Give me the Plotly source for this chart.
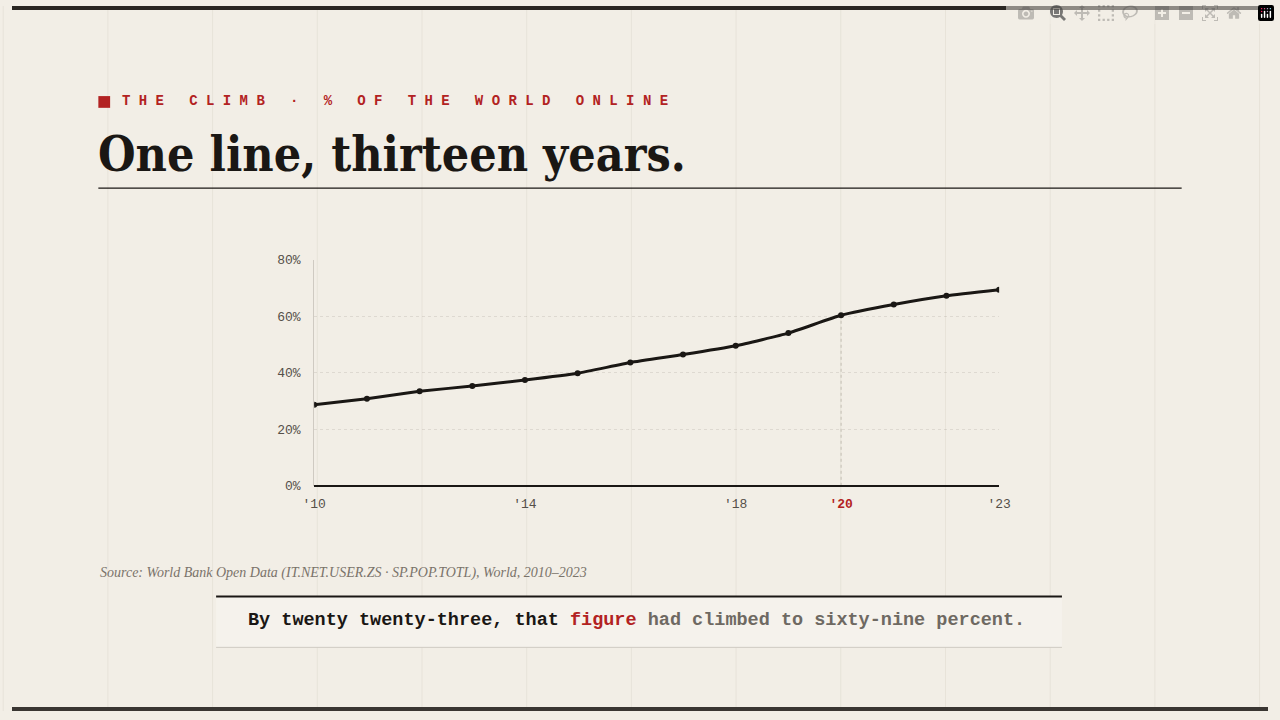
import plotly.graph_objects as go

years = list(range(2010, 2024))
pct = [28.7, 30.8, 33.4, 35.3, 37.4, 39.8, 43.6, 46.4, 49.5, 54.0, 60.3, 64.1, 67.2, 69.3]
xtick_vals = [2010, 2014, 2018, 2020, 2023]
xtick_text = ["'10", "'14", "'18", "<b><span style='color:#b22222'>'20</span></b>", "'23"]
ytick_vals = [0, 20, 40, 60, 80]
ytick_text = ["0%", "20%", "40%", "60%", "80%"]

W, H = 1280, 720
BG = "#f2eee6"
x0p, x1p, y0p, y1p = 308, 1006, 259, 490

fig = go.Figure()
fig.add_trace(go.Scatter(x=years, y=pct, mode="lines+markers",
                         line=dict(color="#1a1714", width=3, shape="spline", smoothing=0.4),
                         marker=dict(color="#1a1714", size=6), hoverinfo="skip"))

def px(x): return x / W
def py(y): return 1 - y / H

shapes = []
for i in range(13):
    xv = -9 + 106.7 * i
    shapes.append(dict(type="line", xref="paper", yref="paper", x0=px(xv), x1=px(xv), y0=0, y1=1,
                       line=dict(color="rgba(120,100,80,0.08)", width=1), layer="below"))
shapes.append(dict(type="rect", xref="paper", yref="paper", x0=0, x1=1, y0=py(4), y1=1, fillcolor="#2a2622", line_width=0))
shapes.append(dict(type="rect", xref="paper", yref="paper", x0=0, x1=1, y0=0, y1=py(716), fillcolor="#3a3632", line_width=0))
shapes.append(dict(type="rect", xref="paper", yref="paper", x0=px(88), x1=px(100), y0=py(104), y1=py(92), fillcolor="#b22222", line_width=0))
shapes.append(dict(type="line", xref="paper", yref="paper", x0=px(88), x1=px(1192), y0=py(186), y1=py(186), line=dict(color="#1a1714", width=1.2)))
shapes.append(dict(type="rect", xref="paper", yref="paper", x0=px(208), x1=px(1070), y0=py(655), y1=py(603), fillcolor="#f5f2ec", line_width=0))
shapes.append(dict(type="line", xref="paper", yref="paper", x0=px(208), x1=px(1070), y0=py(603), y1=py(603), line=dict(color="#1a1714", width=2)))
shapes.append(dict(type="line", xref="paper", yref="paper", x0=px(208), x1=px(1070), y0=py(655), y1=py(655), line=dict(color="#cfcac2", width=1)))
shapes.append(dict(type="line", xref="x", yref="y", x0=2020, x1=2020, y0=0, y1=60.3, line=dict(color="#c4beb4", width=1, dash="dot"), layer="below"))

annotations = [
    dict(x=px(110), y=py(97), xref="paper", yref="paper", xanchor="left", yanchor="middle", showarrow=False,
         text="<b>" + " ".join("THE CLIMB · % OF THE WORLD ONLINE") + "</b>",
         font=dict(family="Liberation Mono, Courier New, monospace", size=14, color="#b22222")),
    dict(x=px(86), y=py(151), xref="paper", yref="paper", xanchor="left", yanchor="middle", showarrow=False,
         text="<b>One line, thirteen years.</b>",
         font=dict(family="DejaVu Serif Condensed, DejaVu Serif, serif", size=48, color="#1a1714")),
    dict(x=px(88), y=py(579), xref="paper", yref="paper", xanchor="left", yanchor="middle", showarrow=False,
         text="<i>Source: World Bank Open Data (IT.NET.USER.ZS · SP.POP.TOTL), World, 2010–2023</i>",
         font=dict(family="Liberation Serif, serif", size=14, color="#7a736a")),
    dict(x=px(636), y=py(628), xref="paper", yref="paper", xanchor="center", yanchor="middle", showarrow=False,
         text="<b><span style='color:#1a1714'>By twenty twenty-three, that </span><span style='color:#b22222'>figure</span><span style='color:#6e6962'> had climbed to sixty-nine percent.</span></b>",
         font=dict(family="Liberation Mono, Courier New, monospace", size=18.5)),
]

fig.update_layout(
    width=W, height=H, paper_bgcolor=BG, plot_bgcolor=BG,
    margin=dict(l=0, r=0, t=0, b=0), showlegend=False,
    shapes=shapes, annotations=annotations,
    xaxis=dict(domain=[px(x0p), px(x1p)], range=[2010, 2023], tickvals=xtick_vals, ticktext=xtick_text,
               showgrid=False, zeroline=False, showline=False, ticks="", ticklabelstandoff=8,
               tickfont=dict(family="Liberation Mono, monospace", size=13, color="#555049")),
    yaxis=dict(domain=[py(y1p), py(y0p)], range=[0, 80], tickvals=ytick_vals, ticktext=ytick_text,
               showgrid=True, gridcolor="rgba(120,110,100,0.16)", griddash="dot", gridwidth=1,
               zeroline=True, zerolinecolor="#1a1714", zerolinewidth=1.5,
               showline=True, linecolor="#cfcac2", linewidth=1, ticks="", ticklabelstandoff=10,
               tickfont=dict(family="Liberation Mono, monospace", size=13, color="#555049")),
)
fig.write_html("out.html",
               post_script="document.body.style.margin='0';document.body.style.overflow='hidden';document.documentElement.style.overflow='hidden';")
